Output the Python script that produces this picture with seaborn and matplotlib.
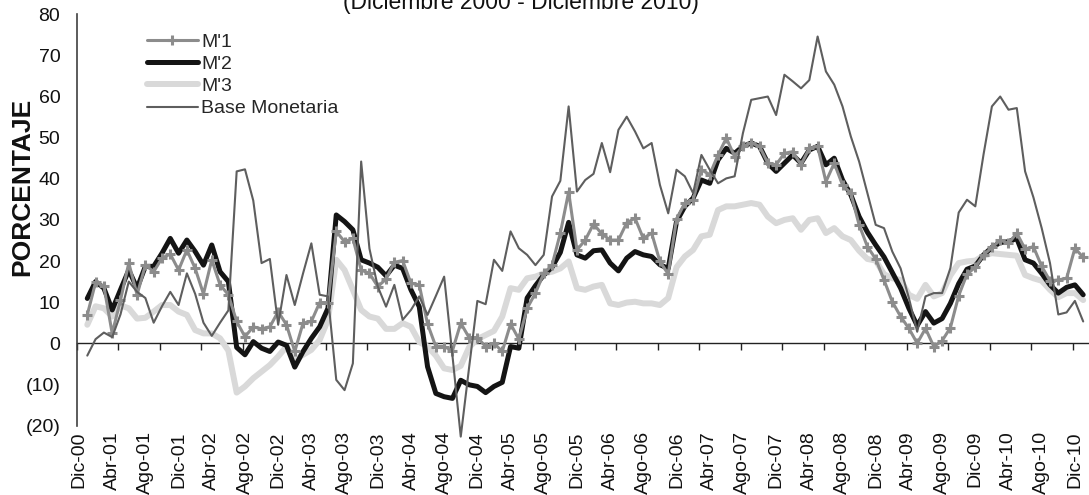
import numpy as np
import pandas as pd
import matplotlib
matplotlib.use("Agg")
import matplotlib.pyplot as plt
import seaborn as sns
from matplotlib.ticker import FuncFormatter

# Monthly growth rates (%), December 2000 through December 2010
m1 = [6.9, 14.8, 13.9, 2.4, 10.5, 19.5, 11.8, 19.0, 17.4, 20.7,
      21.7, 17.8, 22.7, 18.2, 12.0, 20.3, 14.2, 11.8, 5.3, 1.6,
      4.0, 3.5, 4.0, 7.7, 4.5, -2.0, 4.9, 5.3, 9.9, 9.9,
      27.2, 24.7, 25.5, 17.8, 17.0, 13.8, 15.6, 19.7, 20.1, 14.6,
      14.2, 4.7, -0.8, -0.8, -1.8, 4.9, 1.4, 1.4, -0.8, 0.0,
      -2.0, 4.7, 1.0, 8.5, 12.2, 17.0, 19.0, 26.8, 36.8, 22.7,
      25.1, 29.0, 26.6, 25.1, 25.1, 29.3, 30.4, 25.5, 26.8, 19.9,
      16.8, 30.2, 34.1, 34.9, 42.2, 41.0, 45.8, 49.9, 45.4, 47.9,
      48.7, 47.9, 43.8, 43.4, 46.2, 46.6, 43.4, 47.4, 47.9, 39.3,
      43.8, 38.5, 36.5, 28.8, 23.5, 20.5, 15.4, 10.1, 6.5, 3.6,
      0.0, 3.6, -0.8, 0.6, 3.8, 11.6, 16.8, 18.5, 21.5, 23.3,
      25.1, 24.3, 26.8, 22.9, 23.5, 18.7, 15.2, 15.4, 15.8, 23.1,
      20.9]

m2 = [10.9, 15.0, 13.4, 8.1, 13.0, 17.8, 13.4, 18.7, 18.7, 21.9,
      25.5, 21.9, 25.1, 22.3, 19.0, 23.9, 17.4, 15.0, -1.0, -2.8,
      0.4, -1.2, -2.0, 0.3, -0.5, -5.8, -2.0, 1.2, 4.0, 8.5,
      31.2, 29.6, 27.6, 20.3, 19.5, 18.5, 16.4, 19.0, 18.2, 13.0,
      8.9, -5.7, -12.2, -13.0, -13.4, -9.0, -10.1, -10.5, -12.0, -10.5,
      -9.5, -0.8, -1.2, 11.0, 14.0, 16.6, 18.5, 22.1, 29.4, 21.5,
      20.7, 22.5, 22.7, 19.5, 17.6, 20.7, 22.3, 21.5, 21.1, 19.1,
      18.2, 29.6, 33.3, 35.3, 39.7, 38.9, 44.6, 47.4, 46.2, 47.9,
      48.7, 47.9, 43.8, 41.8, 43.8, 45.8, 43.8, 47.0, 47.9, 43.4,
      45.0, 39.7, 36.1, 30.8, 27.0, 23.9, 21.0, 17.2, 13.4, 8.5,
      4.3, 7.7, 4.9, 6.0, 9.7, 14.5, 18.0, 18.8, 21.5, 23.3,
      24.5, 24.7, 25.5, 20.3, 19.5, 17.0, 14.2, 12.2, 13.6, 14.2,
      11.8]

m3 = [4.5, 9.0, 8.5, 6.5, 9.2, 8.5, 6.0, 6.2, 7.7, 9.3,
      9.3, 7.7, 6.9, 3.2, 2.4, 2.4, 1.2, -1.8, -12.0, -10.5,
      -8.5, -6.9, -5.3, -3.2, -0.8, -4.0, -2.8, -1.6, 0.8, 5.7,
      20.3, 17.8, 13.0, 8.1, 6.5, 6.0, 3.5, 3.5, 4.9, 4.0,
      0.3, -0.8, -3.0, -6.1, -6.5, -5.5, -1.0, 1.0, 2.0, 3.0,
      6.5, 13.4, 13.0, 15.8, 16.2, 17.0, 17.4, 18.2, 19.9, 13.4,
      13.0, 13.8, 14.2, 9.7, 9.3, 9.9, 10.1, 9.7, 9.7, 9.3,
      11.0, 18.5, 21.1, 22.7, 26.0, 26.4, 32.4, 33.3, 33.3, 33.7,
      34.1, 33.7, 30.8, 29.2, 30.0, 30.4, 27.6, 30.0, 30.4, 26.8,
      28.0, 26.0, 25.1, 22.5, 20.5, 20.1, 16.8, 15.8, 15.4, 11.8,
      10.8, 14.2, 11.4, 12.2, 16.5, 19.5, 19.9, 20.1, 21.3, 21.9,
      21.7, 21.5, 21.3, 16.6, 15.8, 15.2, 13.0, 11.2, 12.2, 12.2,
      10.5]

base = [-3.0, 1.0, 2.6, 1.5, 7.0, 15.0, 12.5, 11.0, 5.0, 9.0,
        12.5, 9.3, 17.0, 12.0, 5.0, 1.8, 5.0, 8.0, 41.8, 42.3,
        34.7, 19.5, 20.5, 4.5, 16.6, 9.3, 17.0, 24.3, 11.8, 11.4,
        -8.9, -11.4, -4.9, 44.2, 23.0, 13.8, 8.9, 14.2, 5.7, 8.1,
        11.4, 6.9, 11.5, 16.2, -3.0, -22.7, -6.0, 10.3, 9.5, 20.3,
        17.6, 27.2, 23.1, 21.5, 19.0, 21.5, 35.7, 39.5, 57.6, 36.9,
        39.7, 41.2, 48.7, 41.6, 51.9, 55.1, 51.5, 47.4, 48.7, 38.5,
        31.6, 42.2, 40.6, 36.5, 45.8, 42.2, 38.9, 40.1, 40.6, 51.1,
        59.2, 59.6, 60.0, 55.5, 65.3, 63.7, 62.0, 64.0, 74.6, 66.1,
        62.9, 57.6, 50.3, 44.2, 36.5, 28.8, 28.0, 22.3, 18.2, 11.0,
        2.8, 11.4, 12.2, 12.2, 18.3, 31.8, 34.9, 33.3, 46.0, 57.6,
        60.0, 56.8, 57.2, 41.8, 35.5, 28.0, 19.5, 7.0, 7.5, 10.3,
        5.3]

month_abbr = ["Ene", "Feb", "Mar", "Abr", "May", "Jun",
              "Jul", "Ago", "Sep", "Oct", "Nov", "Dic"]
y_ticks = list(range(-20, 81, 10))

# Category slots along the time axis, starting at Dic-00
n_slots = len(m1) + 1
slot_labels = []
for k in range(n_slots):
    idx = 2000 * 12 + 11 + k
    slot_labels.append(f"{month_abbr[idx % 12]}-{(idx // 12) % 100:02d}")

sns.set_theme(style="white")
plt.rcParams["font.family"] = ["Liberation Sans", "DejaVu Sans"]

fig = plt.figure(figsize=(10.89, 4.95), dpi=100)
ax = fig.add_axes([0.0707, 0.1404, 0.9293, 0.8307])

# points are drawn one slot to the right of their month label
df = pd.DataFrame({
    "pos": np.arange(1, len(m1) + 1),
    "M'1": m1,
    "M'2": m2,
    "M'3": m3,
    "Base Monetaria": base,
})

styles = {
    "M'3": dict(color="#d9d9d9", lw=4.3),
    "M'2": dict(color="#141414", lw=3.6),
    "M'1": dict(color="#8c8c8c", lw=2.2, marker="+", markersize=7.5,
                markeredgewidth=2.2, markeredgecolor="#8c8c8c"),
    "Base Monetaria": dict(color="#5e5e5e", lw=1.5),
}
for name in ["M'3", "M'2", "M'1", "Base Monetaria"]:
    sns.lineplot(data=df, x="pos", y=name, ax=ax, label=name,
                 clip_on=False, **styles[name])

ax.set_xlim(-0.24, 121.7)
ax.set_ylim(-20, 80)

# month labels every four slots
label_pos = np.arange(0, n_slots, 4)
ax.set_xticks(label_pos)
ax.set_xticklabels([slot_labels[i] for i in label_pos], rotation=90,
                   fontsize=14, color="#111111")
ax.tick_params(axis="x", length=0, pad=4)
ax.set_xlabel("")

ax.set_yticks(y_ticks)
ax.yaxis.set_major_formatter(FuncFormatter(
    lambda v, _: f"({abs(int(v))})" if v < 0 else f"{int(v)}"))
ax.tick_params(axis="y", direction="out", length=6, width=1.2,
               color="#404040", pad=6, labelsize=14, labelcolor="#111111")
ax.set_ylabel("PORCENTAJE", fontsize=19, fontweight="bold", color="#111111")
ax.yaxis.set_label_coords(-0.042, 0.58)

for side in ["top", "right", "bottom"]:
    ax.spines[side].set_visible(False)
ax.spines["left"].set_color("#404040")
ax.spines["left"].set_linewidth(1.2)

# zero line acting as the category axis, with ticks every five slots
zero_axis = ax.secondary_xaxis(0.2)
zero_axis.set_xticks(np.arange(-0.24, 121.7, 5))
zero_axis.set_xticklabels([])
zero_axis.tick_params(axis="x", direction="out", length=5, width=1.0,
                      color="#222222")
zero_axis.spines["bottom"].set_color("#222222")
zero_axis.spines["bottom"].set_linewidth(1.0)

handles, labels = ax.get_legend_handles_labels()
lookup = dict(zip(labels, handles))
order = ["M'1", "M'2", "M'3", "Base Monetaria"]
ax.legend([lookup[k] for k in order], order, loc="upper left",
          bbox_to_anchor=(147 / 1089, 1 - 33 / 495),
          bbox_transform=fig.transFigure, frameon=False, fontsize=14,
          handlelength=2.6, handletextpad=0.2, labelspacing=0.24,
          borderpad=0, borderaxespad=0)

fig.text(521 / 1089, 1 - 9 / 495, "(Diciembre 2000 - Diciembre 2010)",
         ha="center", va="baseline", fontsize=16.5, color="#111111")

fig.savefig("out.png", dpi=100)
